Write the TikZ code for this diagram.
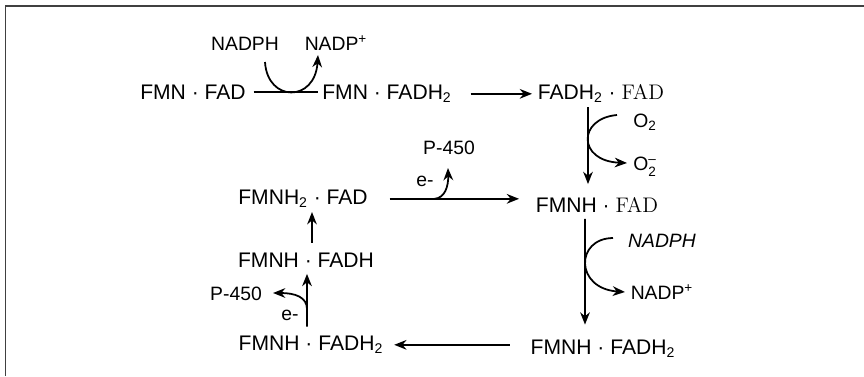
\documentclass[tikz,border=0pt]{standalone}
\usepackage{amsmath}
\usepackage{fontspec}
\setsansfont{Liberation Sans}
\usetikzlibrary{arrows.meta}
\tikzset{
  stoff/.style={font=\sffamily\fontsize{12}{14}\selectfont,inner sep=2pt,anchor=base},
  beschr/.style={font=\sffamily\fontsize{11}{13}\selectfont,inner sep=2pt,anchor=base},
}

\begin{document}
\begin{tikzpicture}[>={Stealth[length=7pt,width=5.5pt]},line width=1pt]
  \useasboundingbox (0,0) rectangle (17.28,7.52);
  % cadre
  \draw[line width=0.8pt,black!75] (0.11,0) -- (0.11,7.40) -- (17.28,7.40);
  % complexes
  \node[stoff] (fmnfad) at (3.86,5.53) {FMN · FAD};
  \node[stoff] (fmnfadhh) at (7.74,5.53) {FMN · FADH\textsubscript{2}};
  \node[stoff] (fadhhfad) at (12.02,5.53) {FADH\textsubscript{2} · \textrm{FAD}};
  \node[stoff] (fmnhfad) at (11.94,3.27) {FMNH · \textrm{FAD}};
  \node[stoff] (fmnhhfad) at (6.06,3.43) {FMNH\textsubscript{2} · FAD};
  \node[stoff] (fmnhfadh) at (6.12,2.17) {FMNH · FADH};
  \node[stoff] (fmnhfadhl) at (6.22,0.51) {FMNH · FADH\textsubscript{2}};
  \node[stoff] (fmnhfadhr) at (12.06,0.43) {FMNH · FADH\textsubscript{2}};
  % etiquettes
  \node[beschr] (nadpa) at (4.90,6.51) {NADPH};
  \node[beschr] (nadpb) at (6.72,6.51) {NADP\textsuperscript{+}};
  \node[beschr] (otwo) at (12.90,4.97) {O\textsubscript{2}};
  \node[beschr] (otwom) at (12.90,4.11) {O$^{\text{--}}_{\text{2}}$};
  \node[beschr] (nadphr) at (13.24,2.57) {\itshape NADPH};
  \node[beschr] (nadpr) at (13.24,1.53) {NADP\textsuperscript{+}};
  \node[beschr] (pvo) at (8.98,4.43) {P-450};
  \node[beschr] (eo) at (8.50,3.79) {e-};
  \node[beschr] (pvl) at (4.72,1.51) {P-450};
  \node[beschr] (el) at (5.80,1.11) {e-};
  % ligne du haut
  \draw[shorten <=0.07cm] (fmnfad.east) -- (fmnfad.east -| fmnfadhh.west);
  \draw[->] ([shift={(0.40,-0.23)}]nadpa.base) .. controls (5.35,5.47) and (6.30,5.47) .. ([shift={(-0.36,-0.09)}]nadpb.base);
  \draw[->,shorten <=0.29cm,shorten >=0.03cm] (fmnfadhh.east) -- (fmnfadhh.east -| fadhhfad.west);
  % cote droit
  \draw[->,shorten >=0.18cm] ([xshift=-0.26cm]fadhhfad.south) -- ([xshift=-0.18cm]fmnhfad.north);
  \draw[->] ([shift={(-0.56,0.25)}]otwo.base) .. controls (11.55,5.15) and (11.55,4.30) .. ([shift={(-0.36,0.15)}]otwom.base);
  \draw[->,shorten <=0.04cm,shorten >=0.22cm] ([xshift=-0.24cm]fmnhfad.south) -- ([xshift=-0.36cm]fmnhfadhr.north);
  \draw[->] ([shift={(-0.98,0.19)}]nadphr.base) .. controls (11.50,2.75) and (11.50,1.75) .. ([shift={(-0.74,0.15)}]nadpr.base);
  % ligne du bas
  \draw[->,shorten <=0.33cm,shorten >=0.13cm] (fmnhfadhr.west |- fmnhfadhl.east) -- (fmnhfadhl.east);
  % cote gauche
  \draw[->,shorten <=0.10cm,shorten >=0.04cm] ([xshift=-0.08cm]fmnhfadhl.north) -- ([xshift=0.02cm]fmnhfadh.south);
  \draw[->] ([shift={(-0.08,0.45)}]fmnhfadhl.north) .. controls (6.14,1.58) and (5.90,1.66) .. ([shift={(0.74,0.15)}]pvl.base);
  \draw[->,shorten <=0.12cm] ([xshift=0.12cm]fmnhfadh.north) -- ([xshift=0.18cm]fmnhhfad.south);
  % ligne du milieu
  \draw[->,shorten <=0.35cm,shorten >=0.25cm] (fmnhhfad.east) -- (fmnhhfad.east -| fmnhfad.west);
  \draw[->] ([xshift=1.25cm]fmnhhfad.east) .. controls (8.90,3.56) and (8.97,3.80) .. ([shift={(-0.02,-0.27)}]pvo.base);
\end{tikzpicture}
\end{document}
